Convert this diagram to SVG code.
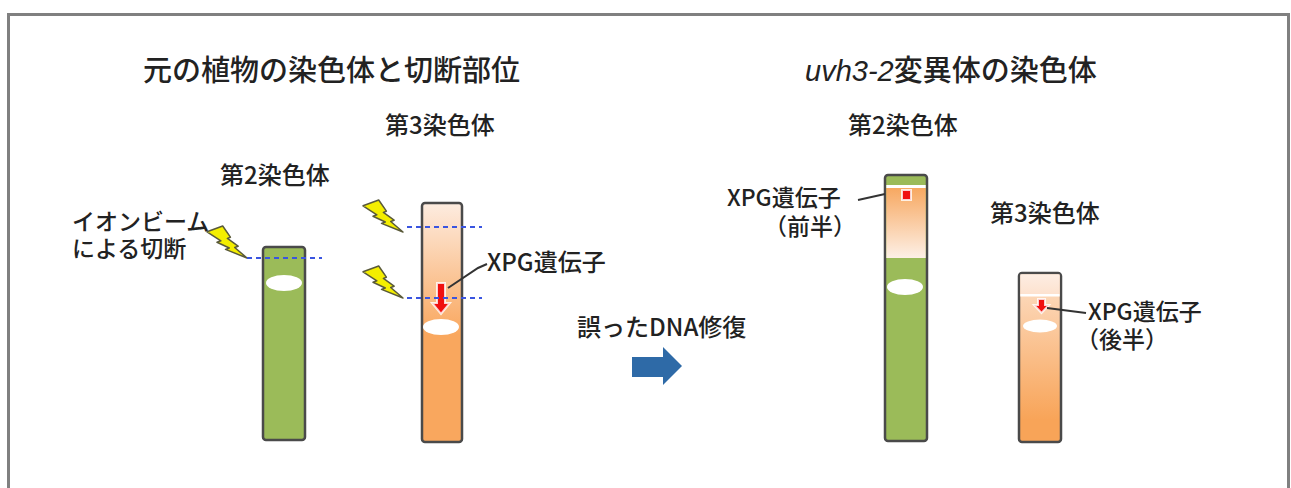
<svg xmlns="http://www.w3.org/2000/svg" width="1291" height="488" viewBox="0 0 1291 488">
  <style>
    text { font-family: "Noto Sans CJK JP", "Liberation Sans", sans-serif; fill: #222; font-weight: 500; }
    .title { font-size: 29px; }
    .lbl { font-size: 24px; }
    .pair { font-size: 23px; }
    .chromo { stroke: #4a4a4a; stroke-width: 2.5; }
    .cut { stroke: #3a55e0; stroke-width: 2; stroke-dasharray: 5 4; fill: none; }
    .lead { stroke: #333; stroke-width: 2; fill: none; }
    .hole { fill: #fff; }
    .bolt { fill: #f4ee00; stroke: #5a5a3a; stroke-width: 1.5; stroke-linejoin: round; }
    .gene { fill: #f01010; stroke: #fff; stroke-width: 2; stroke-opacity: 0.8; }
  </style>
  <defs>
    <!-- lightning bolt, tip at lower right (40,32) -->
    <path id="bolt" d="M15.7,0 L23.4,11.2 L20.4,12.4 L31.1,20.2 L27.7,21.5 L40,32 L18.5,23.4 L22.3,22 L10,16.3 L13.9,14.8 L0,5.8 Z"/>
    <linearGradient id="chr3L" gradientUnits="userSpaceOnUse" x1="0" y1="203" x2="0" y2="335">
      <stop offset="0" stop-color="#fdece0"/>
      <stop offset="1" stop-color="#f9a75e"/>
    </linearGradient>
    <linearGradient id="invSeg" gradientUnits="userSpaceOnUse" x1="0" y1="188" x2="0" y2="258">
      <stop offset="0" stop-color="#f7a861"/>
      <stop offset="1" stop-color="#fdf0e6"/>
    </linearGradient>
    <linearGradient id="chr3Rtop" gradientUnits="userSpaceOnUse" x1="0" y1="273" x2="0" y2="294">
      <stop offset="0" stop-color="#fdeee4"/>
      <stop offset="1" stop-color="#fde2cf"/>
    </linearGradient>
    <linearGradient id="chr3Rlow" gradientUnits="userSpaceOnUse" x1="0" y1="296" x2="0" y2="420">
      <stop offset="0" stop-color="#fcd6b6"/>
      <stop offset="1" stop-color="#f8a458"/>
    </linearGradient>
  </defs>

  <!-- frame -->
  <rect x="8.5" y="14.5" width="1280" height="490" fill="#fff" stroke="#808080" stroke-width="3"/>

  <!-- headings -->
  <text class="title" x="143" y="81">元の植物の染色体と切断部位</text>
  <text class="title" x="805" y="81"><tspan font-style="italic" font-family="Liberation Sans, sans-serif">uvh3-2</tspan>変異体の染色体</text>

  <!-- original chromosome 2 -->
  <g id="orig-chr2">
    <text class="lbl" x="220" y="184">第2染色体</text>
    <rect class="chromo" x="263" y="247" width="42" height="193" rx="3" fill="#9bbb59"/>
    <ellipse class="hole" cx="284" cy="283" rx="18" ry="8"/>
  </g>

  <!-- original chromosome 3 -->
  <g id="orig-chr3">
    <text class="lbl" x="385" y="134">第3染色体</text>
    <rect class="chromo" x="422" y="203" width="40" height="239" rx="3" fill="url(#chr3L)"/>
    <ellipse class="hole" cx="441" cy="327" rx="18" ry="8"/>
    <path class="gene" d="M437,283 H445 V303 H450 L441,314 L432,303 H437 Z"/>
  </g>

  <!-- ion beam cuts -->
  <g id="ion-beam">
    <text class="pair" x="72" y="230">イオンビーム</text>
    <text class="pair" x="72" y="257">による切断</text>
    <use href="#bolt" class="bolt" transform="translate(207,226)"/>
    <use href="#bolt" class="bolt" transform="translate(363,200)"/>
    <use href="#bolt" class="bolt" transform="translate(363,266)"/>
  </g>

  <!-- mutant chromosome 2 -->
  <g id="mut-chr2">
    <text class="lbl" x="848" y="134">第2染色体</text>
    <rect class="chromo" x="885" y="175" width="42" height="266" rx="3" fill="#9bbb59"/>
    <rect x="886.3" y="185" width="39.4" height="3" fill="#fff"/>
    <rect x="886.3" y="188" width="39.4" height="70" fill="url(#invSeg)"/>
    <rect class="gene" x="902" y="190" width="9" height="10"/>
    <ellipse class="hole" cx="905" cy="287" rx="18" ry="8"/>
  </g>

  <!-- mutant chromosome 3 -->
  <g id="mut-chr3">
    <text class="lbl" x="990" y="222">第3染色体</text>
    <rect class="chromo" x="1019" y="273" width="42" height="169" rx="3" fill="url(#chr3Rlow)"/>
    <rect x="1020.3" y="274.3" width="39.4" height="19.7" fill="url(#chr3Rtop)"/>
    <rect x="1020.3" y="294" width="39.4" height="2.5" fill="#fff"/>
    <ellipse class="hole" cx="1040" cy="326" rx="17" ry="6.5"/>
    <path class="gene" d="M1038,299 H1045 V305 H1049 L1041.5,313 L1034,305 H1038 Z"/>
  </g>

  <!-- XPG labels -->
  <g id="xpg-labels">
    <text class="lbl" x="487" y="271">XPG遺伝子</text>
    <text class="pair" x="727" y="206">XPG遺伝子</text>
    <text class="pair" x="764" y="235">（前半）</text>
    <text class="pair" x="1088" y="320">XPG遺伝子</text>
    <text class="pair" x="1076" y="348">（後半）</text>
  </g>

  <!-- repair step -->
  <g id="repair">
    <text class="lbl" x="577" y="336">誤ったDNA修復</text>
    <polygon points="632,357 663,357 663,347 682,366 663,385 663,377 632,377" fill="#2e6aa7"/>
  </g>

  <!-- cut lines and leader lines -->
  <g id="connectors">
    <line class="cut" x1="247" y1="258" x2="322" y2="258"/>
    <line class="cut" x1="407" y1="227" x2="482" y2="227"/>
    <line class="cut" x1="407" y1="298" x2="482" y2="298"/>
    <polyline class="lead" points="448,288 478,268 487,264"/>
    <line class="lead" x1="858" y1="200" x2="885" y2="194"/>
    <line class="lead" x1="1047" y1="308" x2="1086" y2="313"/>
  </g>
</svg>
